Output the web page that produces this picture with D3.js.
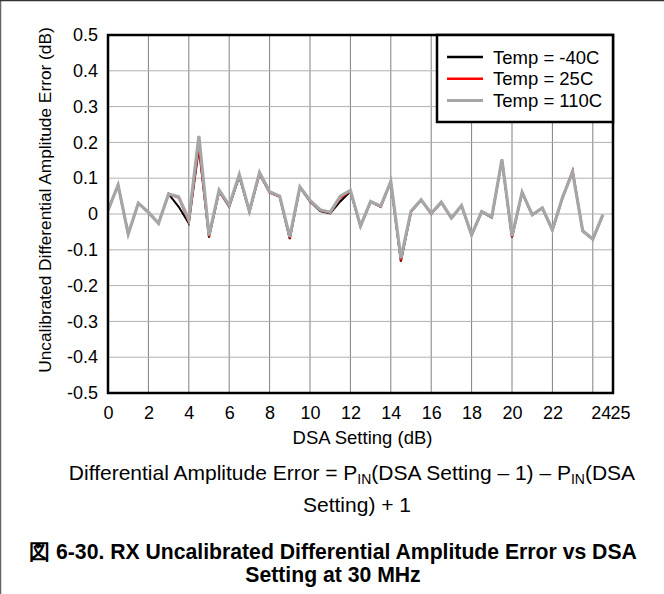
<!DOCTYPE html>
<html>
<head>
<meta charset="utf-8">
<script src="https://cdn.jsdelivr.net/npm/d3@7"></script>
<style>
  body { margin: 0; background: #fff; }
  svg { display: block; font-family: "Liberation Sans", Arial, sans-serif; }
</style>
</head>
<body>
<svg id="chart" width="664" height="594"></svg>
<script>
// DSA setting in dB, 0.5 dB steps
var dsa = [0, 0.5, 1, 1.5, 2, 2.5, 3, 3.5, 4, 4.5, 5, 5.5, 6, 6.5, 7, 7.5, 8, 8.5, 9, 9.5,
  10, 10.5, 11, 11.5, 12, 12.5, 13, 13.5, 14, 14.5, 15, 15.5, 16, 16.5, 17, 17.5, 18, 18.5, 19, 19.5,
  20, 20.5, 21, 21.5, 22, 22.5, 23, 23.5, 24, 24.5]
var tempM40 = [0.01, 0.081, -0.056, 0.03, 0.005, -0.026, 0.056, 0.02, -0.026, 0.185, -0.066, 0.063, 0.02, 0.105, 0.006, 0.112, 0.06, 0.048, -0.07, 0.075,
  0.035, 0.008, 0.002, 0.035, 0.063, -0.035, 0.034, 0.02, 0.09, -0.133, 0.006, 0.039, 0.0, 0.032, -0.012, 0.023, -0.059, 0.006, -0.01, 0.151,
  -0.066, 0.06, -0.003, 0.016, -0.045, 0.045, 0.12, -0.048, -0.071, -0.003]
var temp25 = [0.01, 0.081, -0.056, 0.03, 0.005, -0.026, 0.056, 0.045, -0.022, 0.19, -0.063, 0.064, 0.021, 0.107, 0.006, 0.113, 0.06, 0.049, -0.068, 0.075,
  0.036, 0.01, 0.003, 0.045, 0.064, -0.035, 0.034, 0.02, 0.09, -0.13, 0.006, 0.039, 0.0, 0.032, -0.012, 0.023, -0.059, 0.006, -0.009, 0.151,
  -0.065, 0.06, -0.003, 0.016, -0.045, 0.045, 0.121, -0.048, -0.071, -0.003]
var temp110 = [0.01, 0.081, -0.056, 0.03, 0.005, -0.026, 0.056, 0.048, -0.016, 0.218, -0.06, 0.067, 0.024, 0.11, 0.008, 0.116, 0.062, 0.05, -0.064, 0.076,
  0.038, 0.012, 0.005, 0.05, 0.066, -0.033, 0.035, 0.022, 0.091, -0.124, 0.008, 0.04, 0.002, 0.033, -0.011, 0.024, -0.058, 0.007, -0.008, 0.152,
  -0.062, 0.061, -0.002, 0.017, -0.044, 0.046, 0.117, -0.047, -0.07, -0.002]
var seriesNames = ["Temp = -40C", "Temp = 25C", "Temp = 110C"]
var xTicks = [0, 2, 4, 6, 8, 10, 12, 14, 16, 18, 20, 22, 24, 25]
var yTicks = [-0.5, -0.4, -0.3, -0.2, -0.1, 0, 0.1, 0.2, 0.3, 0.4, 0.5]

var colors = ["#000000", "#ff0000", "#a6a6a6"]
var widths = [2, 2, 3.2]

var margin = {left: 108, top: 35, right: 51, bottom: 201}
var width = 664 - margin.left - margin.right
var height = 594 - margin.top - margin.bottom

var svg = d3.select("#chart")

// page frame (top and left edge)
svg.append("line").attr("x1", 0.5).attr("x2", 0.5).attr("y1", 0).attr("y2", 594)
  .attr("stroke", "#666").attr("stroke-width", 1.5)
svg.append("line").attr("x1", 0).attr("x2", 664).attr("y1", 0.5).attr("y2", 0.5)
  .attr("stroke", "#333").attr("stroke-width", 1.5)

var g = svg.append("g").attr("transform", "translate(" + margin.left + "," + margin.top + ")")

var x = d3.scaleLinear().domain([0, 25]).range([0, width])
var y = d3.scaleLinear().domain([-0.5, 0.5]).range([height, 0])

// grid
g.selectAll(".vgrid").data(xTicks.filter(function(d) { return d > 0 && d < 25 }))
  .enter().append("line")
  .attr("x1", function(d) { return x(d) }).attr("x2", function(d) { return x(d) })
  .attr("y1", 0).attr("y2", height)
  .attr("stroke", "#808080").attr("stroke-width", 1)
g.selectAll(".hgrid").data(yTicks.filter(function(d) { return d > -0.5 && d < 0.5 }))
  .enter().append("line")
  .attr("x1", 0).attr("x2", width)
  .attr("y1", function(d) { return y(d) }).attr("y2", function(d) { return y(d) })
  .attr("stroke", "#b0b0b0").attr("stroke-width", 1)

// axes
var xAxis = g.append("g").attr("transform", "translate(0," + height + ")")
  .call(d3.axisBottom(x).tickValues(xTicks).tickSize(0).tickPadding(10).tickFormat(d3.format("d")))
var yAxis = g.append("g")
  .call(d3.axisLeft(y).tickValues(yTicks).tickSize(0).tickPadding(10)
    .tickFormat(function(d) { return d === 0 ? "0" : d.toFixed(1) }))
xAxis.select(".domain").remove()
yAxis.select(".domain").remove()
g.selectAll(".tick text").attr("font-size", 18).attr("fill", "#000")
  .attr("font-family", "Liberation Sans, Arial, sans-serif")
xAxis.selectAll(".tick text").attr("dy", "0.9em")
xAxis.selectAll(".tick").filter(function(d) { return d === 24 }).select("text").attr("dx", 8)
xAxis.selectAll(".tick").filter(function(d) { return d === 25 }).select("text").attr("dx", 7)

// lines
var line = d3.line().x(function(d) { return x(d[0]) }).y(function(d) { return y(d[1]) })
var allSeries = [tempM40, temp25, temp110]
allSeries.forEach(function(vals, i) {
  g.append("path")
    .datum(dsa.map(function(d, j) { return [d, vals[j]] }))
    .attr("d", line)
    .attr("fill", "none")
    .attr("stroke", colors[i])
    .attr("stroke-width", widths[i])
    .attr("stroke-linejoin", "miter")
})

// plot border
g.append("rect").attr("x", 0).attr("y", 0).attr("width", width).attr("height", height)
  .attr("fill", "none").attr("stroke", "#000").attr("stroke-width", 2.5)

// legend
var lg = g.append("g").attr("transform", "translate(" + (width - 176) + ",0)")
lg.append("rect").attr("x", 0).attr("y", 0).attr("width", 176).attr("height", 87)
  .attr("fill", "#fff").attr("stroke", "#000").attr("stroke-width", 2.5)
seriesNames.forEach(function(name, i) {
  var yy = 22 + i * 21.7
  lg.append("line").attr("x1", 10).attr("x2", 46).attr("y1", yy).attr("y2", yy)
    .attr("stroke", colors[i]).attr("stroke-width", i === 2 ? 3 : 2.5)
  lg.append("text").attr("x", 56).attr("y", yy + 6.5).attr("font-size", 18.5).text(name)
})

// axis titles
g.append("text").attr("x", (x(0) + x(25)) / 2 + 2).attr("y", height + 51)
  .attr("text-anchor", "middle").attr("font-size", 18.5).text("DSA Setting (dB)")
g.append("text").attr("transform", "translate(-57,165) rotate(-90)")
  .attr("text-anchor", "middle").attr("font-size", 17.3)
  .text("Uncalibrated Differential Amplitude Error (dB)")

// caption
var cap = svg.append("text").attr("x", 352).attr("y", 480).attr("text-anchor", "middle")
  .attr("font-size", 21)
cap.append("tspan").text("Differential Amplitude Error = P")
cap.append("tspan").attr("font-size", 14).attr("dy", 4).text("IN")
cap.append("tspan").attr("dy", -4).text("(DSA Setting \u2013 1) \u2013 P")
cap.append("tspan").attr("font-size", 14).attr("dy", 4).text("IN")
cap.append("tspan").attr("dy", -4).text("(DSA")
svg.append("text").attr("x", 357).attr("y", 512).attr("text-anchor", "middle")
  .attr("font-size", 21).text("Setting) + 1")

svg.append("text").attr("x", 333).attr("y", 559).attr("text-anchor", "middle")
  .attr("font-size", 21.2).attr("font-weight", "bold")
  .text("\u56f3 6-30. RX Uncalibrated Differential Amplitude Error vs DSA")
svg.append("text").attr("x", 333).attr("y", 582).attr("text-anchor", "middle")
  .attr("font-size", 21.2).attr("font-weight", "bold")
  .text("Setting at 30 MHz")
</script>
</body>
</html>
